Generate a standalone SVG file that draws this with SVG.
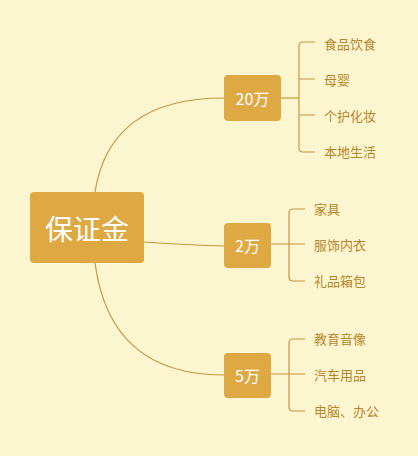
<svg xmlns="http://www.w3.org/2000/svg" width="418" height="456" viewBox="0 0 418 456">
<style>
.node{fill:#DEA843}
.main{font-family:"Noto Sans CJK SC","Noto Sans",sans-serif;fill:#fff;text-anchor:middle;dominant-baseline:central}
.leaf{font-family:"Noto Sans CJK SC","Noto Sans",sans-serif;fill:#B8862A;font-size:13px;dominant-baseline:central}
.ln{fill:none;stroke:#C9963D;stroke-width:1.2}
</style>
<rect width="418" height="456" fill="#FBF5D0"/>
<g id="connectors">
<path class="ln" d="M95,192 Q110,98 224,98"/>
<path class="ln" d="M144,242 Q190,245 224,246"/>
<path class="ln" d="M95,263 Q110,375 224,375"/>
<path class="ln" d="M281,98 L299,98"/>
<path class="ln" d="M315,42 L303,42 Q299,42 299,46 L299,148 Q299,152 303,152 L315,152"/>
<path class="ln" d="M299,79 L315,79 M299,115 L315,115"/>
<path class="ln" d="M271,244 L305,244"/>
<path class="ln" d="M305,209 L293,209 Q289,209 289,213 L289,277 Q289,281 293,281 L305,281"/>
<path class="ln" d="M271,374 L305,374"/>
<path class="ln" d="M305,339 L293,339 Q289,339 289,343 L289,407 Q289,411 293,411 L305,411"/>
</g>
<g id="root"><rect class="node" x="30" y="192" width="114" height="71" rx="4"/><text class="main" x="87" y="228" font-size="28">保证金</text></g>
<g id="n20"><rect class="node" x="224" y="75" width="57" height="46" rx="4"/><text class="main" x="252.5" y="98" font-size="16">20万</text></g>
<g id="n2"><rect class="node" x="224" y="223" width="47" height="45" rx="4"/><text class="main" x="247.5" y="245" font-size="16">2万</text></g>
<g id="n5"><rect class="node" x="224" y="353" width="47" height="45" rx="4"/><text class="main" x="247.5" y="375" font-size="16">5万</text></g>
<g id="l1"><text class="leaf" x="324" y="43">食品饮食</text></g>
<g id="l2"><text class="leaf" x="324" y="79">母婴</text></g>
<g id="l3"><text class="leaf" x="324" y="115">个护化妆</text></g>
<g id="l4"><text class="leaf" x="324" y="151">本地生活</text></g>
<g id="l5"><text class="leaf" x="314" y="208">家具</text></g>
<g id="l6"><text class="leaf" x="314" y="244">服饰内衣</text></g>
<g id="l7"><text class="leaf" x="314" y="280">礼品箱包</text></g>
<g id="l8"><text class="leaf" x="314" y="338">教育音像</text></g>
<g id="l9"><text class="leaf" x="314" y="374">汽车用品</text></g>
<g id="l10"><text class="leaf" x="314" y="410">电脑、办公</text></g>
</svg>
